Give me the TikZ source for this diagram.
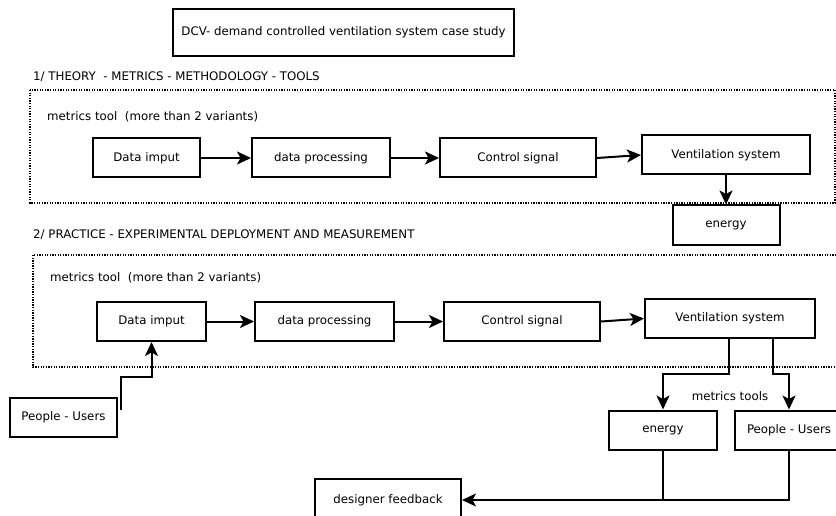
\documentclass[tikz,border=0pt]{standalone}
\usepackage{fontspec}
\setmainfont{DejaVu Sans}
\usepackage{tikz}
\usetikzlibrary{arrows.meta,positioning,calc}
\tikzset{
  box-style/.style = {
    rectangle, draw, line width=2pt,
    minimum height=39pt,
    minimum width=#1,
    inner sep=1pt,
    font=\fontsize{11.8}{13}\selectfont
  },
  box-style/.default = 107pt,
  label-style/.style = {
    anchor=west, inner sep=0pt,
    font=\fontsize{11.8}{13}\selectfont
  },
  frame-style/.style = {
    draw, line width=1.5pt, dash pattern=on 1.3pt off 1.3pt
  },
  link-style/.style = {
    line width=2pt,
    -{Stealth[length=14pt,width=13pt,inset=3.5pt]}
  },
  every edge/.style = {draw, link-style}
}

\begin{document}
\begin{tikzpicture}[x=1pt,y=-1pt]
    \useasboundingbox[fill=white] (0,0) rectangle (836,516);

    %%% title
    \node[box-style=341pt,minimum height=47pt] (title) at (343.5,32.5)
      {DCV- demand controlled ventilation system case study};

    %%% part 1 - theory
    \node[label-style] (head1) at (33,77)
      {1/ THEORY \ - METRICS - METHODOLOGY - TOOLS};
    \draw[frame-style] (30,90) rectangle (835,203);
    \node[label-style] (tool1) at (47,117)
      {metrics tool \ (more than 2 variants)};
    \node[box-style] (in1) at (146.5,158) {Data imput};
    \node[box-style=138pt,right=50pt of in1] (proc1) {data processing};
    \node[box-style=156pt,right=48pt of proc1] (ctrl1) {Control signal};
    \node[box-style=168pt,right=44pt of ctrl1,yshift=3pt] (vent1)
      {Ventilation system};
    \node[box-style,below=29pt of vent1] (energy1) {energy};

    %%% part 2 - practice
    \node[label-style] (head2) at (33,235)
      {2/ PRACTICE - EXPERIMENTAL DEPLOYMENT AND MEASUREMENT};
    \draw[frame-style] (33,255) rectangle (840,367);
    \node[label-style] (tool2) at (50,278)
      {metrics tool \ (more than 2 variants)};
    \node[box-style=109pt] (in2) at (151.5,321.5) {Data imput};
    \node[box-style=139pt,right=47pt of in2] (proc2) {data processing};
    \node[box-style=156pt,right=48pt of proc2] (ctrl2) {Control signal};
    \node[box-style=170pt,right=43pt of ctrl2,yshift=3pt] (vent2)
      {Ventilation system};
    \node[box-style] (users1) at (63.5,417) {People - Users};
    \node[box-style=108pt] (energy2) at (663,430) {energy};
    \node[box-style=108pt,right=16pt of energy2] (users2) {People - Users};
    \node[label-style,anchor=center] (tools) at (730,396) {metrics tools};
    \node[box-style=146pt,minimum height=42pt] (feedback) at (388,500)
      {designer feedback};

    %%% arrows
    % part 1 chain
    \path (in1) edge (proc1);
    \path (proc1) edge (ctrl1);
    \path (ctrl1.east) edge (vent1.west);
    \path (vent1) edge (energy1);
    % part 2 chain
    \path (in2) edge (proc2);
    \path (proc2) edge (ctrl2);
    \path (ctrl2.east) edge (vent2.west);
    % users to data input
    \draw[link-style]
      ([shift={(3pt,7pt)}]users1.east) -- ++(0,-33) -| (in2.south);
    % ventilation to energy and users
    \draw[link-style]
      ([xshift=-1pt]vent2.south) -- ++(0,35) -| (energy2.north);
    \draw[link-style]
      ([xshift=43pt]vent2.south) -- ++(0,35) -| (users2.north);
    % energy and users to feedback
    \draw[line width=2pt] (users2.south) |- (energy2.south |- feedback.east);
    \draw[link-style] (energy2.south) |- (feedback.east);
\end{tikzpicture}
\end{document}
